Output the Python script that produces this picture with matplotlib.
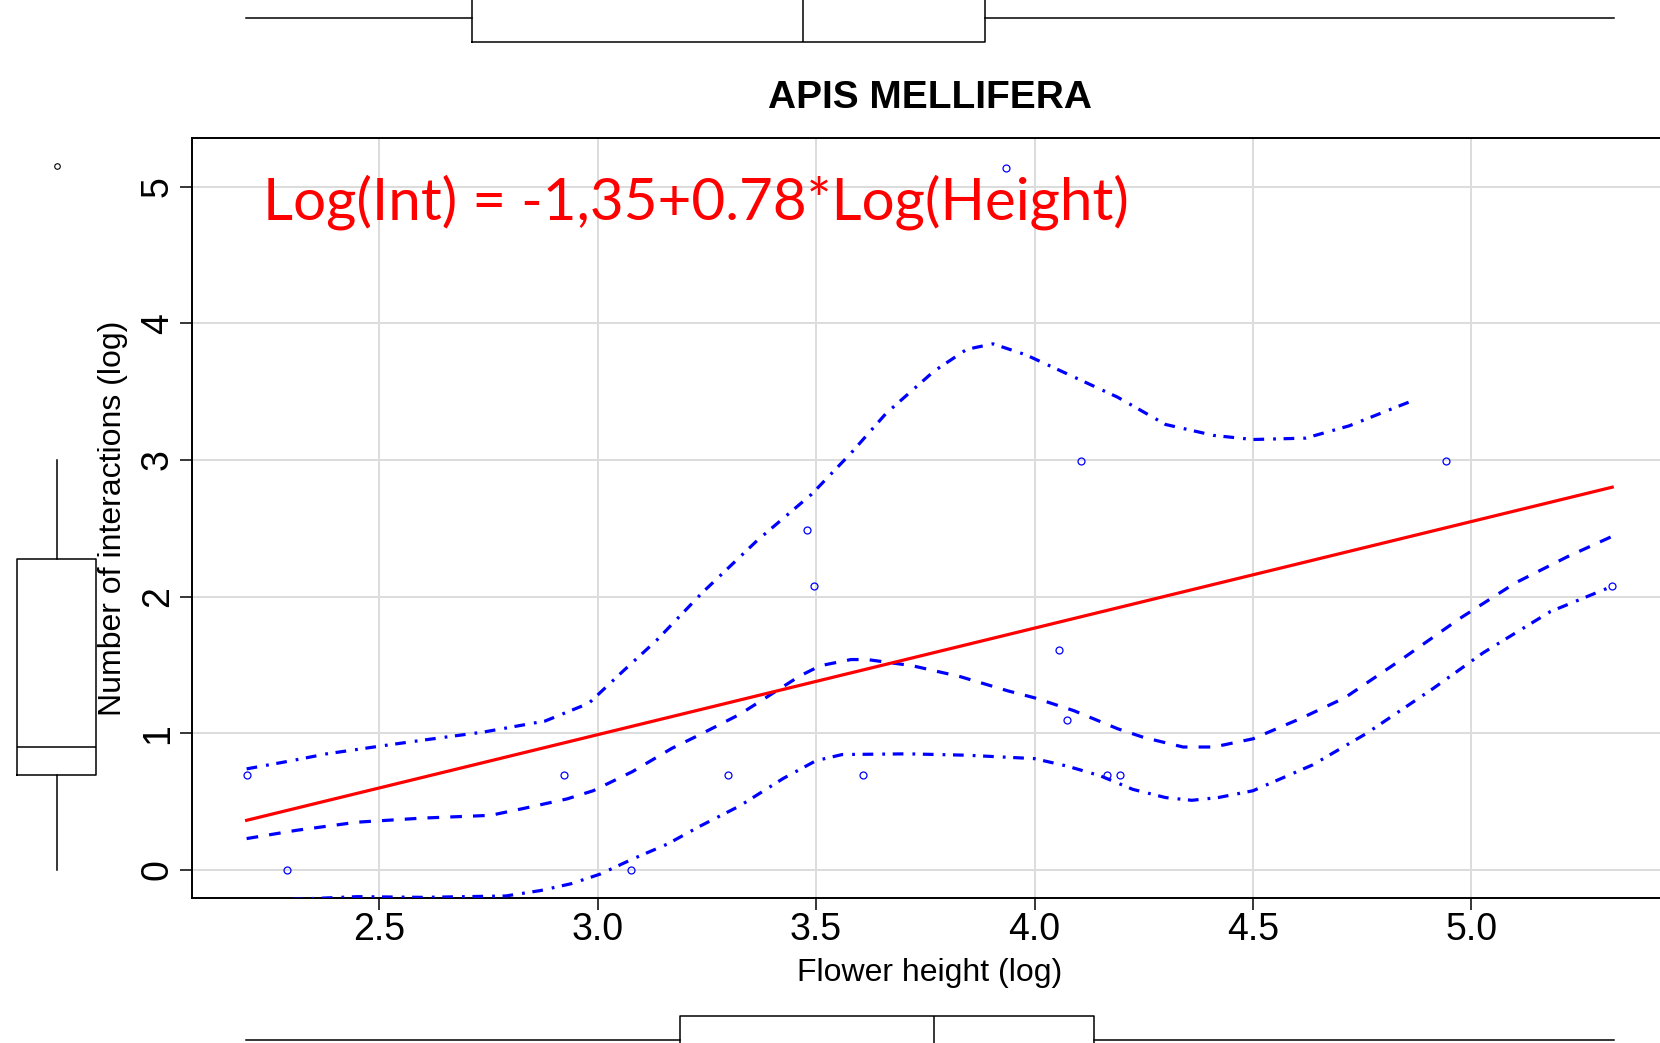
import numpy as np
import matplotlib
matplotlib.use('Agg')
import matplotlib.pyplot as plt
from matplotlib.patches import Circle

# ============================================================
# Data
# ============================================================

# observed points: flower height (log) vs number of interactions (log)
height_log = [2.197, 2.289, 2.924, 3.077, 3.299, 3.479, 3.496, 3.607,
              3.934, 4.055, 4.075, 4.106, 4.167, 4.196, 4.942, 5.322]
inter_log = [0.693, 0.0, 0.693, 0.0, 0.693, 2.485, 2.079, 0.693,
             5.136, 1.609, 1.099, 2.996, 0.693, 0.693, 2.996, 2.079]

# linear fit Log(Int) = -1.35 + 0.78*Log(Height)
fit_intercept = -1.35
fit_slope = 0.78
fit_range = [2.197, 5.322]

# smoother (dashed) and spread (dash-dot) curves
smooth_x = [2.197, 2.31, 2.45, 2.60, 2.755, 2.83, 2.93, 2.99, 3.08, 3.17, 3.234,
            3.326, 3.463, 3.51, 3.58, 3.617, 3.72, 3.83, 3.94, 4.0, 4.09, 4.19,
            4.25, 4.34, 4.41, 4.50, 4.61, 4.71, 4.835, 4.973, 5.10, 5.218, 5.321]
smooth_y = [0.23, 0.29, 0.35, 0.38, 0.40, 0.45, 0.52, 0.58, 0.72, 0.89, 0.99,
            1.14, 1.42, 1.495, 1.54, 1.54, 1.495, 1.415, 1.31, 1.26, 1.166, 1.034,
            0.97, 0.90, 0.90, 0.96, 1.11, 1.26, 1.53, 1.84, 2.10, 2.29, 2.44]

upper_x = [2.197, 2.30, 2.38, 2.51, 2.60, 2.74, 2.88, 2.98, 3.06, 3.135, 3.24,
           3.365, 3.49, 3.58, 3.66, 3.77, 3.845, 3.905, 3.98, 4.075, 4.19, 4.30,
           4.41, 4.50, 4.62, 4.72, 4.83, 4.87]
upper_y = [0.74, 0.80, 0.85, 0.91, 0.95, 1.01, 1.09, 1.22, 1.46, 1.68, 2.03,
           2.41, 2.75, 3.05, 3.34, 3.65, 3.81, 3.85, 3.77, 3.63, 3.46, 3.26,
           3.18, 3.15, 3.16, 3.25, 3.39, 3.44]

lower_x = [2.30, 2.45, 2.60, 2.79, 2.87, 2.94, 3.006, 3.08, 3.16, 3.234, 3.326,
           3.425, 3.50, 3.56, 3.71, 3.845, 4.0, 4.075, 4.15, 4.225, 4.30, 4.36,
           4.42, 4.50, 4.637, 4.76, 4.913, 5.027, 5.18, 5.325]
lower_y = [-0.215, -0.195, -0.20, -0.19, -0.15, -0.10, -0.03, 0.08, 0.19, 0.32, 0.47,
           0.67, 0.80, 0.845, 0.85, 0.84, 0.815, 0.76, 0.69, 0.59, 0.53, 0.51,
           0.53, 0.58, 0.77, 1.00, 1.33, 1.59, 1.89, 2.08]

# marginal boxplots (whislo, q1, med, q3, whishi)
box_top = [2.195, 2.713, 3.471, 3.886, 5.325]
box_bottom = [2.195, 3.189, 3.769, 4.137, 5.325]
box_left = [0.0, 0.692, 0.901, 2.278, 3.0]
box_left_fliers = [5.15]

x_ticks = [2.5, 3.0, 3.5, 4.0, 4.5, 5.0]
y_ticks = [0, 1, 2, 3, 4, 5]

title = 'APIS MELLIFERA'
equation = 'Log(Int) = -1,35+0.78*Log(Height)'

# ============================================================
# Figure
# ============================================================

plt.rcParams['font.family'] = ['Liberation Sans', 'DejaVu Sans']
plt.rcParams['lines.scale_dashes'] = False

W, H = 1660, 1043
fig = plt.figure(figsize=(W / 100, H / 100), dpi=100)
fig.patch.set_facecolor('white')

# slide decoration in the lower-left corner
fig.patches.append(Circle((-400 / W, 1 - 1200 / H), 447 / W, transform=fig.transFigure,
                          facecolor='#fde9b9', edgecolor='none', zorder=0))

c_blue = '#0000ff'
c_red = '#ff0000'
c_grid = '#dcdcdc'

# main axes (pixel box 192..1668 x 138..898)
ax = fig.add_axes([192 / W, 1 - 898.3 / H, 1476 / W, 760 / H])
ax.set_xlim(2.072, 5.4497)
ax.set_ylim(-0.207, 5.354)

ax.set_xticks(x_ticks)
ax.set_yticks(y_ticks)
ax.set_xticklabels([f'{v:.1f}' for v in x_ticks])
ax.set_yticklabels([str(v) for v in y_ticks])
ax.grid(True, color=c_grid, linewidth=1.4)
ax.set_axisbelow(True)
for sp in ax.spines.values():
    sp.set_linewidth(1.4)
ax.tick_params(direction='out', length=8.6, width=1.1, labelsize=27)
ax.tick_params(axis='x', pad=1)
ax.tick_params(axis='y', pad=3)
plt.setp(ax.get_yticklabels(), rotation=90, va='center', ha='right')

# spread and smooth
ax.plot(upper_x, upper_y, color=c_blue, lw=2.3, linestyle=(0, (7.7, 6.5, 2, 5.5)), zorder=3)
ax.plot(lower_x, lower_y, color=c_blue, lw=2.3, linestyle=(0, (7.7, 6.5, 2, 5.5)), zorder=3)
ax.plot(smooth_x, smooth_y, color=c_blue, lw=2.3, linestyle=(0, (8.4, 8.0)), zorder=3)

# linear fit
fx = np.array(fit_range)
ax.plot(fx, fit_intercept + fit_slope * fx, color=c_red, lw=2.3, zorder=4)

# points
ax.plot(height_log, inter_log, 'o', mfc='none', mec=c_blue, ms=5.0, mew=0.9, zorder=5)

ax.set_xlabel('Flower height (log)', fontsize=23)
ax.xaxis.set_label_coords(0.5, -(973 - 898.3) / 760)
ax.xaxis.label.set_va('center')
ax.set_ylabel('Number of interactions (log)', fontsize=23)
ax.yaxis.set_label_coords(-(192 - 112.5) / 1476, 0.5)
ax.yaxis.label.set_va('center')

ax.text(263 / W, 1 - 219.3 / H, equation, transform=fig.transFigure,
        fontsize=42, color=c_red, ha='left', va='baseline', family=['Lato', 'DejaVu Sans'])

fig.text(0.5 * (192 + 1668) / W, 1 - 108 / H, title, fontsize=28, fontweight='bold',
         ha='center', va='baseline')


def stats(v, fliers=()):
    return dict(whislo=v[0], q1=v[1], med=v[2], q3=v[3], whishi=v[4], fliers=list(fliers))


bkw = dict(showcaps=False, widths=1.0,
           boxprops=dict(color='black', lw=1.1),
           whiskerprops=dict(color='black', lw=1.1, linestyle='-'),
           medianprops=dict(color='black', lw=1.1),
           flierprops=dict(marker='o', mfc='none', mec='black', ms=4.0, mew=0.8))

# top marginal boxplot: whisker at y=18.3 px, box half height 23.4 px
hh = 23.4 * 1.1
ax_top = fig.add_axes([192 / W, 1 - (18.3 + hh) / H, 1476 / W, 2 * hh / H])
ax_top.bxp([stats(box_top)], positions=[0], orientation='horizontal', **bkw)
ax_top.set_xlim(ax.get_xlim())
ax_top.set_ylim(-0.55, 0.55)
ax_top.axis('off')

# bottom marginal boxplot: whisker at y=1040 px, box half height 24.3 px
hh = 24.3 * 1.1
ax_bot = fig.add_axes([192 / W, 1 - (1040 + hh) / H, 1476 / W, 2 * hh / H])
ax_bot.bxp([stats(box_bottom)], positions=[0], orientation='horizontal', **bkw)
ax_bot.set_xlim(ax.get_xlim())
ax_bot.set_ylim(-0.55, 0.55)
ax_bot.axis('off')

# left marginal boxplot: whisker at x=56.5 px, box half width 39.5 px
hw = 39.5 * 1.1
ax_left = fig.add_axes([(56.5 - hw) / W, 1 - 898.3 / H, 2 * hw / W, 760 / H])
ax_left.bxp([stats(box_left, box_left_fliers)], positions=[0], **bkw)
ax_left.set_ylim(ax.get_ylim())
ax_left.set_xlim(-0.55, 0.55)
ax_left.axis('off')

fig.savefig('out.png', dpi=100, facecolor='white')
